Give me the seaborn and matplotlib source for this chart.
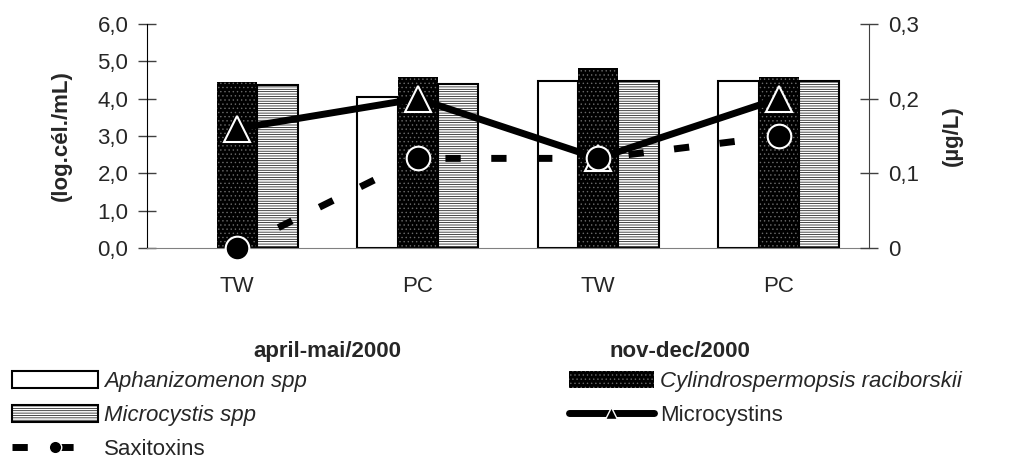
import numpy as np
import pandas as pd
import seaborn as sns
import matplotlib.pyplot as plt
import matplotlib.transforms as mtransforms
from matplotlib.patches import Patch
from matplotlib.lines import Line2D

sns.set_style("white")
plt.rcParams['font.family'] = ['Liberation Sans', 'DejaVu Sans']
plt.rcParams['hatch.linewidth'] = 0.5

FS = 16

# data
sites = ["TW", "PC", "TW", "PC"]
site_ids = ["TW-apr", "PC-apr", "TW-nov", "PC-nov"]
periods = ["april-mai/2000", "nov-dec/2000"]
species = ["Aphanizomenon spp", "Cylindrospermopsis raciborskii", "Microcystis spp"]
aphanizomenon = [0.0, 4.04, 4.46, 4.48]
cylindrospermopsis = [4.45, 4.58, 4.81, 4.58]
microcystis = [4.37, 4.39, 4.46, 4.46]
microcystins = [0.16, 0.20, 0.12, 0.20]
saxitoxins = [0.0, 0.12, 0.12, 0.15]

df = pd.DataFrame({"site": site_ids,
                   species[0]: aphanizomenon,
                   species[1]: cylindrospermopsis,
                   species[2]: microcystis})
m = pd.melt(df, id_vars="site", value_vars=species, var_name="species", value_name="value")

fig = plt.figure(figsize=(10.29, 4.63), dpi=100)
ax = fig.add_axes([0.1429, 0.4644, 0.7016, 0.4838])

sns.barplot(data=m, x="site", y="value", hue="species", order=site_ids, hue_order=species,
            palette=["white", "black", "white"], saturation=1, width=0.67, gap=0,
            edgecolor="black", linewidth=1.5, legend=False, ax=ax)

# bar textures: plain / black with faint dots / fine horizontal lines
bar_styles = [dict(hatch=None, edgecolor="black", lw=1.5),
              dict(hatch="....", edgecolor="#6a6a6a", lw=0),
              dict(hatch="-------", edgecolor="black", lw=1.5)]
for cont, st in zip(ax.containers, bar_styles):
    for bar in cont:
        bar.set_edgecolor(st["edgecolor"])
        bar.set_linewidth(st["lw"] if bar.get_height() > 0 else 0)
        if st["hatch"]:
            bar.set_hatch(st["hatch"])

ax.set_ylim(0, 6)
ax.set_yticks(np.arange(0, 7))
ax.set_yticklabels([f"{v:.1f}".replace(".", ",") for v in np.arange(0, 7)])
ax.set_xticks(range(len(sites)))
ax.set_xticklabels(sites)
ax.set_xticks([0.5, 1.5, 2.5], minor=True)
ax.tick_params(axis="x", which="major", length=0, pad=20, labelsize=FS)
ax.tick_params(axis="x", which="minor", direction="inout", length=12, width=1, color="#404040")
ax.tick_params(axis="y", direction="inout", length=13, width=1, pad=7, labelsize=FS,
               left=True, color="#404040")
ax.set_xlabel("")
ax.set_ylabel("(log.cél./mL)", fontsize=FS, fontweight="bold")
ax.yaxis.set_label_coords(-0.104, 0.5)
for s in ["top", "right"]:
    ax.spines[s].set_visible(False)
ax.spines["left"].set_color("black")
ax.spines["bottom"].set_color("#808080")

ax2 = ax.twinx()
x_pos = np.arange(len(site_ids))
sns.lineplot(x=x_pos, y=microcystins, ax=ax2, color="black", linewidth=5,
             marker="^", markersize=19, markerfacecolor="black",
             markeredgecolor="white", markeredgewidth=1.5, clip_on=False)
sns.lineplot(x=x_pos, y=saxitoxins, ax=ax2, color="black", linewidth=5,
             marker="o", markersize=17, markerfacecolor="black",
             markeredgecolor="white", markeredgewidth=1.5, clip_on=False)
ax2.lines[-1].set_linestyle((0, (2.2, 4.4)))
ax2.lines[-1].set_dash_capstyle("butt")

ax2.set_ylim(0, 0.3)
ax2.set_yticks([0, 0.1, 0.2, 0.3])
ax2.set_yticklabels(["0", "0,1", "0,2", "0,3"])
ax2.tick_params(axis="y", direction="inout", length=13, width=1, pad=7, labelsize=FS,
                right=True, color="#404040")
ax2.set_ylabel("(µg/L)", fontsize=FS, fontweight="bold")
ax2.yaxis.set_label_coords(1.101, 0.5)
for s in ["top", "left", "bottom"]:
    ax2.spines[s].set_visible(False)
ax2.spines["right"].set_color("#404040")
ax.set_xlim(-0.5, 3.5)

# period labels under each pair of sites
trans = mtransforms.blended_transform_factory(ax.transData, fig.transFigure)
for xp, lab in zip([0.5, 2.45], periods):
    ax.text(xp, 0.240, lab, transform=trans, ha="center", va="center",
            fontsize=FS, fontweight="bold")

handles = [Patch(facecolor="white", edgecolor="black", lw=1.5),
           Patch(facecolor="white", edgecolor="black", lw=1.5, hatch="-------"),
           Line2D([], [], color="black", lw=5, linestyle=(0, (2.2, 4.4)), marker="o",
                  markersize=9, markerfacecolor="black", markeredgecolor="white"),
           Patch(facecolor="black", edgecolor="#6a6a6a", lw=0, hatch="...."),
           Line2D([], [], color="black", lw=5, marker="^", markersize=9,
                  markerfacecolor="black", markeredgecolor="white", solid_capstyle="round")]
labels = [species[0], species[2], "Saxitoxins", species[1], "Microcystins"]
leg = fig.legend(handles, labels, ncol=2, loc="upper left", bbox_to_anchor=(0.0117, 0.198),
                 frameon=False, fontsize=FS, handlelength=3.85, handleheight=0.77,
                 handletextpad=0.27, columnspacing=11.8, labelspacing=0.58,
                 borderpad=0, borderaxespad=0)
for t in leg.get_texts():
    if t.get_text() in species:
        t.set_fontstyle("italic")

fig.savefig("out.png", dpi=100)
